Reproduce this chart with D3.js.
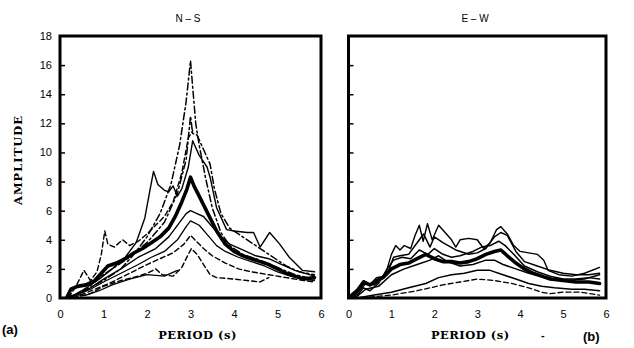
<!DOCTYPE html>
<html><head><meta charset="utf-8">
<script src="https://cdn.jsdelivr.net/npm/d3@7"></script>
<style>
html,body{margin:0;padding:0;background:#fff;}
svg{display:block;}
.tick text{font-family:"Liberation Sans Narrow","Liberation Sans",sans-serif;}
</style></head>
<body>
<svg id="c" width="634" height="348"></svg>
<script>
// ---- data ----
const panelTitles = ["N \u2013 S", "E \u2013 W"];
const panelTags = ["(a)", "(b)"];
const xTicks = [0, 1, 2, 3, 4, 5, 6];
const yTicks = [0, 2, 4, 6, 8, 10, 12, 14, 16, 18];
const xLabel = "PERIOD (s)";
const yLabel = "AMPLITUDE";

// N-S spectra: [period, amplitude]
const nsMean = [[0.15,0],[0.25,0.6],[0.4,0.8],[0.6,0.9],[0.8,1.2],[0.95,1.7],[1.1,2.2],[1.3,2.4],[1.5,2.7],[1.7,3.1],[1.9,3.4],[2.1,3.8],[2.3,4.2],[2.5,4.8],[2.65,5.6],[2.8,6.6],[2.92,7.5],[3.0,8.3],[3.08,7.7],[3.2,7.0],[3.4,5.8],[3.6,4.6],[3.8,3.7],[4.0,3.2],[4.2,2.9],[4.4,2.7],[4.6,2.5],[4.8,2.3],[5.0,2.0],[5.2,1.7],[5.4,1.5],[5.6,1.3],[5.85,1.4]];
const nsPeak16 = [[0.2,0],[0.5,0.4],[1.0,1.2],[1.4,2.0],[1.7,3.0],[2.0,4.2],[2.3,5.8],[2.55,7.8],[2.75,10.5],[2.9,13.5],[3.0,16.3],[3.05,14.5],[3.12,12],[3.2,10.5],[3.35,8.2],[3.5,6.2],[3.7,4.5],[3.9,3.6],[4.2,3.0],[4.6,2.6],[5.0,2.1],[5.4,1.6],[5.85,1.3]];
const nsPeak12 = [[0.2,0],[0.6,0.6],[1.0,1.6],[1.5,2.6],[2.0,3.8],[2.4,5.2],[2.7,7.2],[2.9,9.5],[3.0,12.5],[3.05,11.3],[3.15,11.2],[3.3,10.2],[3.45,9.2],[3.55,7.5],[3.7,5.8],[3.9,4.8],[4.2,4.2],[4.5,3.6],[4.8,3.0],[5.2,2.2],[5.5,1.8],[5.85,1.6]];
const nsPeak9 = [[0.2,0],[0.5,0.5],[0.9,1.3],[1.2,2.0],[1.5,2.8],[1.75,3.8],[1.95,5.5],[2.08,7.6],[2.15,8.7],[2.25,7.8],[2.4,7.4],[2.5,7.3],[2.6,7.7],[2.7,7.0],[2.8,7.5],[2.95,9.0],[3.05,10.8],[3.2,9.8],[3.38,9.0],[3.45,8.3],[3.6,6.2],[3.83,4.7],[4.0,4.6],[4.3,4.5],[4.45,4.5],[4.6,3.5],[4.82,4.5],[5.05,3.7],[5.27,2.8],[5.57,1.9],[5.85,1.8]];
const ns6 = [[0.2,0],[0.6,0.5],[1.0,1.3],[1.4,2.0],[1.8,2.8],[2.2,3.4],[2.5,4.2],[2.75,5.2],[2.9,5.8],[3.0,6.0],[3.15,5.8],[3.3,5.6],[3.5,4.9],[3.7,4.2],[3.9,3.7],[4.2,3.3],[4.5,2.9],[4.8,2.7],[5.1,2.3],[5.4,1.9],[5.85,1.5]];
const ns5 = [[0.2,0],[0.7,0.6],[1.0,1.1],[1.4,1.7],[1.8,2.3],[2.1,2.8],[2.4,3.2],[2.7,4.0],[2.9,4.9],[3.0,5.3],[3.2,5.0],[3.4,4.3],[3.6,3.6],[3.8,3.2],[4.1,2.8],[4.4,2.5],[4.7,2.2],[5.0,1.8],[5.3,1.5],[5.6,1.3],[5.85,1.2]];
const ns4 = [[0.3,0],[0.8,0.6],[1.2,1.1],[1.6,1.7],[2.0,2.3],[2.3,2.7],[2.6,3.1],[2.85,3.7],[3.0,4.3],[3.1,4.0],[3.3,3.4],[3.5,2.9],[3.8,2.4],[4.1,2.0],[4.4,1.8],[4.8,1.6],[5.2,1.4],[5.6,1.2],[5.85,1.1]];
const ns3 = [[0.3,0],[0.7,0.3],[1.0,0.8],[1.4,1.2],[1.8,1.5],[2.0,1.7],[2.2,2.0],[2.35,1.6],[2.6,1.5],[2.8,2.1],[2.95,3.0],[3.02,3.4],[3.15,3.0],[3.3,2.3],[3.45,1.6],[3.6,1.4],[4.0,1.3],[4.3,1.2],[4.6,1.1],[4.8,1.4]];
const nsSpike = [[0.2,0],[0.4,1.0],[0.55,1.9],[0.7,1.2],[0.85,1.8],[0.95,3.0],[1.03,4.6],[1.1,3.7],[1.25,3.5],[1.44,4.0],[1.6,3.6],[1.8,3.9],[2.0,4.4],[2.2,5.0],[2.4,5.6],[2.6,6.6],[2.8,8.6],[2.95,11.0],[3.05,11.5]];
const nsLow = [[0.1,0],[0.3,0.2],[0.6,0.2],[0.9,0.5],[1.2,0.9],[1.6,1.3],[2.0,1.6],[2.4,1.5],[2.7,1.9]];

// E-W spectra
const ewMean = [[0.0,0],[0.2,0.5],[0.35,1.1],[0.5,0.9],[0.65,1.2],[0.8,1.4],[1.0,2.0],[1.2,2.3],[1.4,2.4],[1.6,2.7],[1.8,3.0],[2.0,2.7],[2.2,2.5],[2.4,2.5],[2.6,2.4],[2.8,2.5],[3.0,2.7],[3.2,3.0],[3.4,3.2],[3.55,3.3],[3.7,2.9],[3.9,2.4],[4.1,2.0],[4.3,1.7],[4.5,1.5],[4.7,1.3],[5.0,1.2],[5.3,1.1],[5.6,1.1],[5.85,1.0]];
const ew1 = [[0.1,0],[0.35,1.2],[0.5,0.9],[0.65,1.4],[0.85,1.5],[1.0,3.0],[1.1,3.6],[1.2,3.3],[1.3,3.6],[1.45,3.4],[1.55,4.3],[1.65,5.0],[1.74,3.9],[1.84,5.1],[1.95,4.0],[2.1,5.0],[2.25,4.5],[2.4,4.0],[2.5,3.5],[2.6,4.0],[2.8,4.1],[3.0,4.0],[3.15,3.4],[3.3,3.8],[3.45,4.7],[3.55,4.9],[3.7,4.4],[3.85,3.6],[4.0,3.2],[4.2,3.1],[4.4,3.0],[4.55,2.6],[4.65,1.9],[4.9,1.6],[5.2,1.5],[5.5,1.7],[5.85,2.1]];
const ew2 = [[0.1,0],[0.4,1.0],[0.6,0.9],[0.9,1.6],[1.05,2.8],[1.2,2.9],[1.4,3.0],[1.6,3.8],[1.75,4.4],[1.9,3.5],[2.0,4.2],[2.2,3.8],[2.5,3.3],[2.8,3.0],[3.0,3.1],[3.2,3.4],[3.4,4.2],[3.55,4.5],[3.7,4.3],[3.9,3.2],[4.1,2.5],[4.4,2.2],[4.7,1.9],[5.0,1.7],[5.3,1.6],[5.6,1.6],[5.85,1.7]];
const ew3 = [[0.15,0],[0.4,0.6],[0.7,0.8],[1.0,1.6],[1.3,2.0],[1.6,2.3],[1.9,2.6],[2.1,2.9],[2.3,2.5],[2.6,2.2],[2.9,2.3],[3.2,2.6],[3.4,2.6],[3.6,2.3],[3.9,2.0],[4.2,1.7],[4.5,1.5],[4.8,1.3],[5.1,1.2],[5.5,1.3],[5.85,1.6]];
const ew4 = [[0.2,0],[0.6,0.2],[1.0,0.4],[1.4,0.7],[1.8,1.0],[2.1,1.4],[2.4,1.6],[2.7,1.7],[3.0,1.9],[3.3,1.9],[3.6,1.6],[3.9,1.3],[4.2,1.0],[4.5,0.8],[4.8,0.7],[5.2,0.6],[5.5,0.6],[5.85,0.5]];
const ew5 = [[0.3,0],[1.0,0.2],[1.6,0.5],[2.2,0.9],[2.6,1.1],[3.0,1.3],[3.4,1.2],[3.8,1.0],[4.2,0.7],[4.5,0.4],[4.7,0.3],[5.0,0.4],[5.4,0.4],[5.85,0.2]];
const ew6 = [[0.15,0],[0.35,0.7],[0.5,0.5],[0.7,1.0],[0.9,2.0],[1.05,2.6],[1.25,2.8],[1.45,2.7],[1.65,3.3],[1.85,3.0],[2.0,3.4],[2.2,3.0],[2.4,2.8],[2.6,2.9],[2.9,3.2],[3.1,3.5],[3.3,3.6],[3.5,3.9],[3.65,3.6],[3.85,3.0],[4.1,2.2],[4.4,1.8],[4.7,1.5],[5.0,1.3],[5.3,1.3],[5.6,1.4],[5.85,1.3]];

// ---- drawing ----
const svg = d3.select("#c");
const DASH = "5,3", DASHDOT = "7,3,2,3";

const panels = [
  { x0: 60, x1: 321, title: panelTitles[0], titleX: 188, labels: true,
    series: [
      {d: nsLow, w: 1.3}, {d: ns3, w: 1.4, dash: DASH}, {d: ns4, w: 1.4, dash: DASH},
      {d: ns5, w: 1.3}, {d: ns6, w: 1.4}, {d: nsSpike, w: 1.4, dash: DASH},
      {d: nsPeak9, w: 1.4}, {d: nsPeak12, w: 1.5, dash: DASHDOT}, {d: nsPeak16, w: 1.5, dash: DASHDOT},
      {d: nsMean, w: 3.6}
    ]},
  { x0: 348.5, x1: 606, title: panelTitles[1], titleX: 475, labels: false,
    series: [
      {d: ew5, w: 1.3, dash: DASH}, {d: ew4, w: 1.5}, {d: ew3, w: 1.5}, {d: ew6, w: 1.5},
      {d: ew2, w: 1.5}, {d: ew1, w: 1.4}, {d: ewMean, w: 3.6}
    ]}
];

const yTop = 36, yBot = 298;
const y = d3.scaleLinear().domain([0, 18]).range([yBot, yTop]);

panels.forEach((p, i) => {
  const x = d3.scaleLinear().domain([0, 6]).range([p.x0, p.x1]);
  const g = svg.append("g");
  const clipId = "clip" + i;
  svg.append("clipPath").attr("id", clipId).append("rect")
    .attr("x", p.x0).attr("y", yTop).attr("width", p.x1 - p.x0).attr("height", yBot - yTop);

  // y axis (ticks inward)
  const yAxis = d3.axisRight(y).tickValues(yTicks.slice(1, -1)).tickSize(5).tickFormat("");
  g.append("g").attr("transform", `translate(${p.x0},0)`).call(yAxis)
    .call(a => a.select(".domain").remove())
    .selectAll("line").attr("stroke", "#000").attr("stroke-width", 1.5);
  if (p.labels) {
    const yl = d3.axisLeft(y).tickValues(yTicks).tickSize(0).tickPadding(8).tickFormat(d3.format("d"));
    g.append("g").attr("transform", `translate(${p.x0},0)`).call(yl)
      .call(a => a.select(".domain").remove())
      .selectAll("text").attr("font-size", 11).attr("fill", "#000");
  }
  // x axis labels
  const xl = d3.axisBottom(x).tickValues(xTicks).tickSize(0).tickPadding(12).tickFormat(d3.format("d"));
  g.append("g").attr("transform", `translate(0,${yBot})`).call(xl)
    .call(a => a.select(".domain").remove())
    .selectAll("text").attr("font-size", 11).attr("fill", "#000");

  // lines
  const line = d3.line().x(d => x(d[0])).y(d => y(d[1])).curve(d3.curveLinear);
  const lg = g.append("g").attr("clip-path", `url(#${clipId})`);
  p.series.forEach(s => {
    lg.append("path").attr("d", line(s.d)).attr("fill", "none")
      .attr("stroke", "#000").attr("stroke-width", s.w)
      .attr("stroke-linejoin", "round").attr("stroke-linecap", "round")
      .attr("stroke-dasharray", s.dash || null);
  });

  // frame
  g.append("rect").attr("x", p.x0).attr("y", yTop).attr("width", p.x1 - p.x0).attr("height", yBot - yTop)
    .attr("fill", "none").attr("stroke", "#000").attr("stroke-width", 3);

  // title
  g.append("text").attr("x", p.titleX).attr("y", 22).attr("text-anchor", "middle")
    .attr("font-family", "Liberation Sans, sans-serif").attr("font-size", 10).text(p.title);

  // x label
  g.append("text").attr("x", (p.x0 + p.x1) / 2 + (i === 0 ? 7 : -7)).attr("y", 339).attr("text-anchor", "middle")
    .attr("font-family", "DejaVu Serif, serif").attr("font-weight", "bold").attr("font-size", 11.5)
    .attr("letter-spacing", 0.5).text(xLabel);
});

// y label
svg.append("text").attr("transform", "translate(22,160) rotate(-90)").attr("text-anchor", "middle")
  .attr("font-family", "DejaVu Serif, serif").attr("font-weight", "bold").attr("font-size", 11.5)
  .attr("letter-spacing", 1).text(yLabel);

// panel tags
svg.append("text").attr("x", 2).attr("y", 334).attr("font-family", "Liberation Sans, sans-serif")
  .attr("font-weight", "bold").attr("font-size", 13).text(panelTags[0]);
svg.append("text").attr("x", 583).attr("y", 341).attr("font-family", "Liberation Sans, sans-serif")
  .attr("font-weight", "bold").attr("font-size", 13).text(panelTags[1]);
svg.append("text").attr("x", 541).attr("y", 339).attr("font-family", "Liberation Sans, sans-serif")
  .attr("font-weight", "bold").attr("font-size", 11).text("-");
</script>
</body></html>
